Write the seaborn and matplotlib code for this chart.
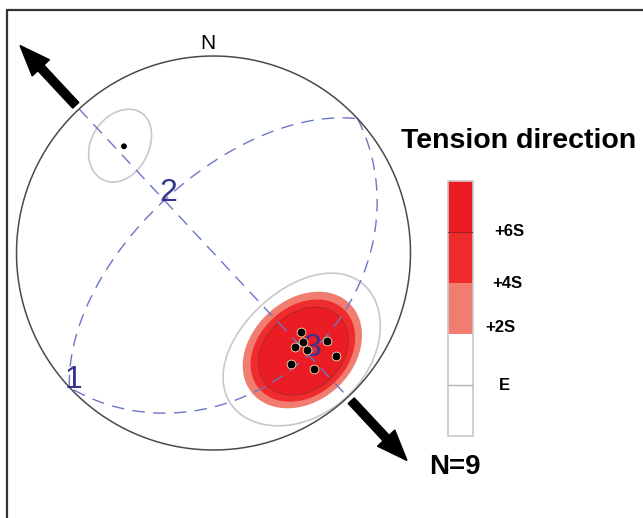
import numpy as np
import matplotlib
matplotlib.use("Agg")
import matplotlib.pyplot as plt
import seaborn as sns
import pandas as pd
from matplotlib.patches import FancyArrow, Rectangle
from matplotlib.lines import Line2D

# ---------------- data ----------------
point_trend = [132, 135, 139, 136, 128, 130, 145, 139, 320]
point_plunge = [40, 36, 37, 32, 28, 20, 32, 23, 30]

axis_names = ["1", "2", "3"]
axis_trend = [227, 317, 137]
axis_plunge = [0, 60, 30]

contour_levels = ["E", "+2S", "+4S", "+6S"]
contour_center_trend = [137.5, 137.5, 137.5, 137.5]
contour_center_plunge = [30.5, 32, 32, 32]
contour_cone_strike = [32.5, 24.0, 21.0, 18.0]   # half-angle along strike (deg)
contour_cone_dip = [30.0, 24.0, 21.0, 18.0]      # half-angle along dip (deg)

single_center_trend = 319
single_center_plunge = 28
single_cone_major = 15.2
single_cone_minor = 12.4
single_cone_rot = 56.5

legend_labels = ["E", "+2S", "+4S", "+6S"]
legend_colors = ["#ffffff", "#ffffff", "#f17d70", "#ee2b2d", "#ec1c24"]  # bottom -> top
title_text = "Tension direction"
n_text = "N=9"
north_text = "N"

# ---------------- helpers ----------------
def vec(tr, pl):
    tr, pl = np.radians(tr), np.radians(pl)
    return np.array([np.cos(pl) * np.sin(tr), np.cos(pl) * np.cos(tr), np.sin(pl)])

def project(v):
    v = np.array(v, dtype=float)
    flip = v[2] < 0
    v[:, flip] = -v[:, flip]
    x, y, z = v
    return x / np.sqrt(1 + z), y / np.sqrt(1 + z)

def project_tp(tr, pl):
    v = vec(np.asarray(tr, float), np.asarray(pl, float))
    return v[0] / np.sqrt(1 + v[2]), v[1] / np.sqrt(1 + v[2])

def cone(tr, pl, a_major, a_minor, rot=0.0, n=361):
    """Elliptical cone around (tr, pl); major half-angle measured from the
    strike direction rotated by `rot` degrees toward the dip direction."""
    c = vec(tr, pl)
    t, p = np.radians(tr), np.radians(pl)
    e_t = np.array([np.cos(t), -np.sin(t), 0.0])
    e_r = np.array([np.sin(p) * np.sin(t), np.sin(p) * np.cos(t), -np.cos(p)])
    r = np.radians(rot)
    u = np.cos(r) * e_t + np.sin(r) * e_r
    w = -np.sin(r) * e_t + np.cos(r) * e_r
    phi = np.linspace(0, 2 * np.pi, n)
    pp = np.tan(np.radians(a_major)) * np.cos(phi)
    qq = np.tan(np.radians(a_minor)) * np.sin(phi)
    v = c[:, None] + pp * u[:, None] + qq * w[:, None]
    v = v / np.linalg.norm(v, axis=0)
    return project(v)

def great_circle(pole_tr, pole_pl, n=300):
    p = vec(pole_tr, pole_pl)
    h = np.cross(p, [0, 0, 1.0]); h /= np.linalg.norm(h)
    d = np.cross(p, h); d /= np.linalg.norm(d)
    if d[2] < 0:
        d = -d
    t = np.linspace(0, np.pi, n)
    v = np.cos(t) * h[:, None] + np.sin(t) * d[:, None]
    return project(v)

# ---------------- figure ----------------
sns.set_style("white")
plt.rcParams["font.family"] = ["Liberation Sans", "DejaVu Sans"]
plt.rcParams["text.color"] = "black"

W, H = 643, 518
CX, CY, R = 213.5, 253.0, 197.0
fig = plt.figure(figsize=(W / 100, H / 100), dpi=100)
fig.patch.set_facecolor("white")
ax = fig.add_axes([0, 0, 1, 1])

# contour fills
fill_colors = {"+2S": "#f17d70", "+4S": "#ee2b2d", "+6S": "#ec1c24"}
for lev, ctr, cpl, a1, a2 in zip(contour_levels, contour_center_trend, contour_center_plunge,
                                 contour_cone_strike, contour_cone_dip):
    X, Y = cone(ctr, cpl, a1, a2)
    if lev == "E":
        ax.plot(X, Y, color="#c8c8c8", lw=1.2, zorder=2)
    elif lev == "+6S":
        ax.fill(X, Y, facecolor=fill_colors[lev], edgecolor="#b5262a", lw=0.8, zorder=3)
    else:
        ax.fill(X, Y, facecolor=fill_colors[lev], edgecolor="none", zorder=3)

# single-point confidence cone
X, Y = cone(single_center_trend, single_center_plunge, single_cone_major,
            single_cone_minor, single_cone_rot)
ax.plot(X, Y, color="#c8c8c8", lw=1.2, zorder=2)

# great circles (planes perpendicular to each principal axis)
for tr, pl in zip(axis_trend, axis_plunge):
    X, Y = great_circle(tr, pl)
    ax.plot(X, Y, color="#6b76c9", lw=1.0, linestyle=(0, (9, 6)), zorder=4)

# primitive circle
th = np.linspace(0, 2 * np.pi, 500)
ax.plot(np.cos(th), np.sin(th), color="#4a4a4a", lw=1.1, zorder=5)

# data points
px, py = project_tp(point_trend, point_plunge)
df = pd.DataFrame({"x": px, "y": py})
sns.scatterplot(data=df.iloc[:-1], x="x", y="y", color="black", s=40,
                edgecolor="#f3e3b0", linewidth=0.6, ax=ax, zorder=7, legend=False)
sns.scatterplot(data=df.iloc[-1:], x="x", y="y", color="black", s=18,
                edgecolor="none", ax=ax, zorder=7, legend=False)
ax.set_xlim(-CX / R, (W - CX) / R)
ax.set_ylim(-(H - CY) / R, CY / R)
ax.axis("off")

# axis labels
ax_x, ax_y = project_tp(axis_trend, axis_plunge)
for name, x, y in zip(axis_names, ax_x, ax_y):
    ax.annotate(name, (x, y), xytext=(3, 5), textcoords="offset points",
                ha="center", va="center", fontsize=23, color="#35358f", zorder=6)

# north label
ax.text(-0.03, 1.015, north_text, ha="center", va="bottom", fontsize=15, color="black")

# tension arrows along sigma-3 trend
t3 = axis_trend[2]
for az in (t3, t3 + 180):
    a = np.radians(az)
    ux, uy = np.sin(a), np.cos(a)
    r0, r1 = 1.025, 1.44
    arr = FancyArrow(r0 * ux, r0 * uy, (r1 - r0) * ux, (r1 - r0) * uy,
                     width=0.042, head_width=0.12, head_length=0.155,
                     length_includes_head=True, color="black", zorder=6)
    ax.add_patch(arr)

# legend bar
leg = fig.add_axes([448 / W, (H - 436) / H, 25 / W, 255 / H])
leg.set_xlim(0, 1)
leg.set_ylim(0, 5)
leg.axis("off")
leg.bar([0.5] * 5, [1] * 5, bottom=list(range(5)), width=1, color=legend_colors,
        edgecolor="none")
leg.plot([0, 1], [1, 1], color="#b0b0b0", lw=1.0)
leg.plot([0, 1], [4, 4], color="#a51d22", lw=0.8)
leg.add_patch(Rectangle((0, 0), 1, 5, fill=False, edgecolor="#c8c8c8", lw=1.2, clip_on=False))
label_dy = {"E": 0.0, "+2S": 0.12, "+4S": 0.0, "+6S": 0.0}
label_x = {"E": 2.24, "+2S": 2.08, "+4S": 2.36, "+6S": 2.44}
for i, lab in enumerate(legend_labels):
    leg.text(label_x[lab], i + 1 + label_dy[lab], lab, ha="center", va="center",
             fontsize=12, fontweight="bold", color="black", clip_on=False)

# title and count
fig.text(401 / W, 1 - 141 / H, title_text, ha="left", va="center",
         fontsize=20.5, fontweight="bold", color="black")
fig.text(455 / W, 1 - 467 / H, n_text, ha="center", va="center",
         fontsize=20, fontweight="bold", color="black")

# frame
fig.add_artist(Line2D([7 / W, 7 / W], [0, 1 - 10 / H], transform=fig.transFigure,
                      color="#333333", lw=1.6))
fig.add_artist(Line2D([7 / W, 1], [1 - 10 / H, 1 - 10 / H], transform=fig.transFigure,
                      color="#333333", lw=1.6))

fig.savefig("out.png", dpi=100, facecolor="white")
